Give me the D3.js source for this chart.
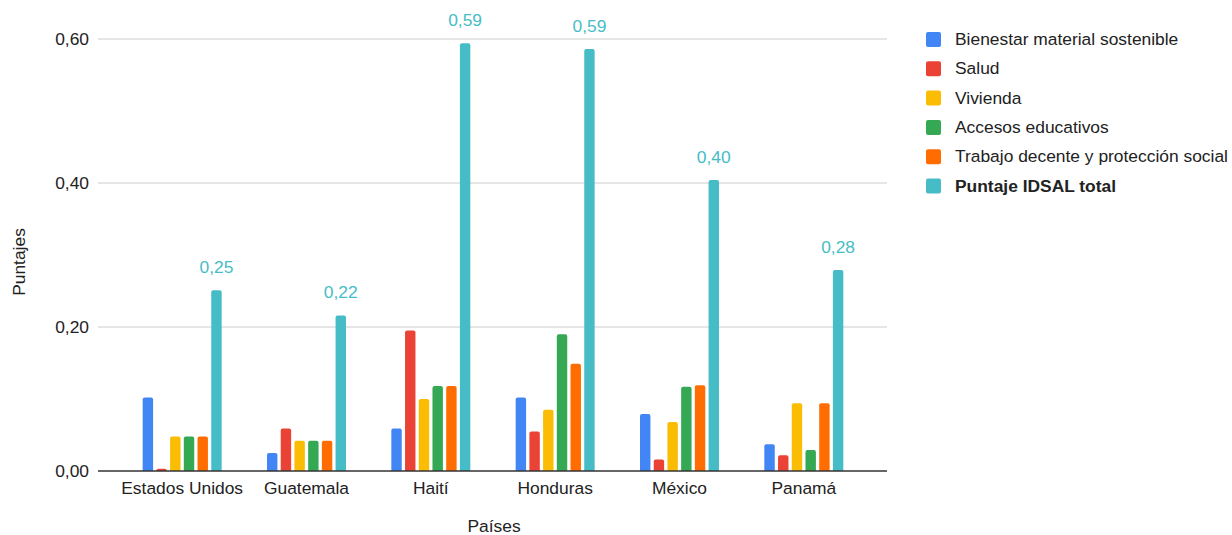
<!DOCTYPE html>
<html><head><meta charset="utf-8">
<script src="https://cdn.jsdelivr.net/npm/d3@7"></script>
<style>
html,body{margin:0;padding:0;background:#fff;}
svg{display:block;font-family:"Liberation Sans",Arial,sans-serif;}
</style></head>
<body><svg id="c" width="1232" height="535"></svg>
<script>
const countries = ["Estados Unidos","Guatemala","Haití","Honduras","México","Panamá"];
const seriesNames = ["Bienestar material sostenible","Salud","Vivienda","Accesos educativos","Trabajo decente y protección social","Puntaje IDSAL total"];
const seriesColors = ["#4285f4","#ea4335","#fbbc04","#34a853","#ff6d01","#46bdc6"];
const bienestar = [0.102,0.025,0.059,0.102,0.079,0.037];
const salud     = [0.003,0.059,0.195,0.055,0.016,0.022];
const vivienda  = [0.048,0.042,0.100,0.085,0.068,0.094];
const accesos   = [0.048,0.042,0.118,0.190,0.117,0.029];
const trabajo   = [0.048,0.042,0.118,0.149,0.119,0.094];
const total     = [0.251,0.216,0.594,0.586,0.404,0.279];
const yTicks = [0,0.2,0.4,0.6];
const values = [bienestar,salud,vivienda,accesos,trabajo,total];

const svg = d3.select("#c");
const gridL = 98, gridR = 887, y0 = 471, yTop = 39;
const FS = 17.4;
const y = d3.scaleLinear().domain([0,0.6]).range([y0,yTop]);
const x = d3.scaleBand().domain(countries).range([120,866]).paddingInner(0).paddingOuter(0);
const xs = d3.scaleBand().domain(d3.range(6)).range([0,79]).paddingInner(0.24).paddingOuter(0);
const fmt = v => d3.format(".2f")(v).replace(".",",");

svg.append("g").selectAll("line").data(yTicks.filter(d=>d>0)).join("line")
  .attr("x1",gridL).attr("x2",gridR).attr("y1",d=>y(d)).attr("y2",d=>y(d))
  .attr("stroke","#cccccc").attr("stroke-width",1);
svg.append("g").selectAll("text").data(yTicks).join("text")
  .attr("x",89).attr("y",d=>y(d)).attr("dy","0.35em").attr("text-anchor","end")
  .attr("font-size",FS).attr("fill","#222").text(fmt);

function barPath(x0,w,yt,yb){
  const r = Math.min(2,(yb-yt));
  return `M${x0},${yb}V${yt+r}Q${x0},${yt} ${x0+r},${yt}H${x0+w-r}Q${x0+w},${yt} ${x0+w},${yt+r}V${yb}Z`;
}
const groups = svg.append("g").selectAll("g").data(countries).join("g")
  .attr("transform",d=>`translate(${x(d)+x.bandwidth()/2-39.5},0)`);
groups.selectAll("path").data((c,i)=>values.map((s,k)=>({k,v:s[i]}))).join("path")
  .attr("d",d=>barPath(xs(d.k),xs.bandwidth(),y(d.v),y0))
  .attr("fill",d=>seriesColors[d.k]);
groups.append("text").attr("x",(c)=>xs(5)+xs.bandwidth()/2)
  .attr("y",(c,i)=>y(total[i])-17.5).attr("text-anchor","middle")
  .attr("font-size",FS).attr("fill","#46bdc6").text((c,i)=>fmt(total[i]));

svg.append("line").attr("x1",gridL).attr("x2",gridR).attr("y1",y0).attr("y2",y0)
  .attr("stroke","#333").attr("stroke-width",1.5);

svg.append("g").selectAll("text").data(countries).join("text")
  .attr("x",d=>x(d)+x.bandwidth()/2).attr("y",494).attr("text-anchor","middle")
  .attr("font-size",FS).attr("fill","#222").text(d=>d);

svg.append("text").attr("x",494).attr("y",532).attr("text-anchor","middle")
  .attr("font-size",FS).attr("fill","#222").text("Países");
svg.append("text").attr("transform","translate(25,262) rotate(-90)").attr("text-anchor","middle")
  .attr("font-size",FS).attr("fill","#222").text("Puntajes");

const lg = svg.append("g").selectAll("g").data(seriesNames).join("g")
  .attr("transform",(d,i)=>`translate(926,${39+i*29.3})`);
lg.append("rect").attr("x",0).attr("y",-7).attr("width",15).attr("height",15).attr("rx",2)
  .attr("fill",(d,i)=>seriesColors[i]);
lg.append("text").attr("x",29).attr("y",0).attr("dy","0.35em")
  .attr("font-size",FS).attr("fill","#222").attr("font-weight",(d,i)=>i===5?"bold":"normal").text(d=>d);
</script></body></html>
